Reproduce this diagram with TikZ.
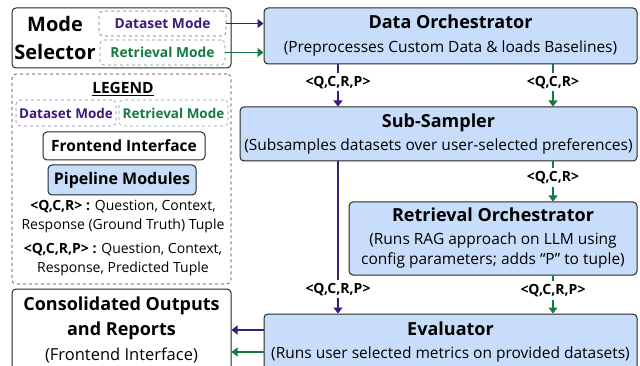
\documentclass[tikz,border=0pt]{standalone}
\usepackage{fontspec}
\setmainfont{Open Sans}
\usepackage{tikz}
\usetikzlibrary{arrows.meta}
\usetikzlibrary{positioning,calc}
\usepackage{xcolor}
\definecolor{dsetpurple}{RGB}{58,27,125}
\definecolor{retrgreen}{RGB}{22,122,64}
\definecolor{modblue}{RGB}{199,221,249}
\tikzset{
    module/.style={
        draw=black!85,
        fill=modblue,
        rounded corners=4pt,
        line width=1pt,
        align=center,
        inner sep=0pt,
        font=\fontsize{15.5}{18}\selectfont
    },
    frontend/.style={
        draw=black!85,
        fill=white,
        rounded corners=4pt,
        line width=1pt,
        align=center,
        inner sep=0pt
    },
    modebox/.style={
        dashed,
        rounded corners=4pt,
        line width=0.6pt,
        inner sep=0pt,
        font=\fontsize{13.8}{16}\selectfont\bfseries
    },
    dflow/.style={
        draw=dsetpurple,
        line width=1.8pt,
        -{Triangle[length=6pt, width=9pt]}
    },
    rflow/.style={
        draw=retrgreen,
        line width=1.8pt,
        -{Triangle[length=6pt, width=9pt]}
    },
    tuple/.style={
        fill=white,
        inner sep=3pt,
        font=\fontsize{14}{16}\selectfont\bfseries
    }
}

\begin{document}
\begin{tikzpicture}[x=1pt, y=-1pt]
  \useasboundingbox (0,0) rectangle (640,366);

  % Mode selector (top left)
  \node[frontend, minimum width=219pt, minimum height=60pt] (sel) at (121.5,38) {};
  \node[font=\fontsize{20}{28}\selectfont\bfseries, align=center] (seltext) at (55,38) {Mode\\Selector};
  \node[modebox, draw=dsetpurple!70, text=dsetpurple, minimum width=127pt, minimum height=25pt] (dsm) at (162.5,23.5) {Dataset Mode};
  \node[modebox, draw=retrgreen!70, text=retrgreen, minimum width=125pt, minimum height=25pt] (rtm) at (162.5,52.5) {Retrieval Mode};

  % Legend
  \node[draw=black!80, dashed, rounded corners=4pt, line width=0.6pt, minimum width=219pt, minimum height=210pt] (leg) at (121.5,179) {};
  \node[font=\fontsize{15.5}{18}\selectfont\bfseries] (legtitle) at (123,89) {\underline{LEGEND}};
  \node[modebox, font=\fontsize{13.5}{16}\selectfont\bfseries, draw=dsetpurple!60, text=dsetpurple, minimum width=100pt, minimum height=26pt] (legdsm) at (66,113) {Dataset Mode};
  \node[modebox, font=\fontsize{13.5}{16}\selectfont\bfseries, draw=retrgreen!60, text=retrgreen, minimum width=109pt, minimum height=26pt] (legrtm) at (173.5,113) {Retrieval Mode};
  \node[frontend, font=\fontsize{15.5}{18}\selectfont\bfseries, minimum width=162pt, minimum height=28pt] (legfe) at (124,146) {Frontend Interface};
  \node[module, font=\fontsize{16}{18}\selectfont\bfseries, minimum width=148pt, minimum height=30pt] (legpm) at (122,180) {Pipeline Modules};
  \node[align=center, font=\fontsize{14}{19}\selectfont] (legqcr) at (123,217) {\textbf{<Q,C,R> :} Question, Context,\\Response (Ground Truth) Tuple};
  \node[align=center, font=\fontsize{14}{19}\selectfont] (legqcrp) at (123,260) {\textbf{<Q,C,R,P> :} Question, Context,\\Response, Predicted Tuple};

  % Consolidated outputs (bottom left)
  \node[frontend, minimum width=219pt, minimum height=82pt] (cons) at (121.5,330) {};
  \node[align=center, font=\fontsize{18}{25}\selectfont\bfseries] (constext) at (121.5,318) {Consolidated Outputs\\and Reports};
  \node[font=\fontsize{16.5}{18}\selectfont] (consnote) at (121.5,355) {(Frontend Interface)};

  % Pipeline modules
  \node[module, minimum width=373pt, minimum height=56pt] (do) at (450.5,36)
    {{\fontsize{18}{20}\selectfont\bfseries Data Orchestrator}\\[6pt](Preprocesses Custom Data \& loads Baselines)};
  \node[module, minimum width=397pt, minimum height=54pt] (ss) at (438.5,134)
    {{\fontsize{18}{20}\selectfont\bfseries Sub-Sampler}\\[5pt](Subsamples datasets over user-selected preferences)};
  \node[module, minimum width=288pt, minimum height=73pt] (ro) at (493,238.5)
    {{\fontsize{18}{20}\selectfont\bfseries Retrieval Orchestrator}\\[5pt](Runs RAG approach on LLM using\\[2pt]config parameters; adds “P” to tuple)};
  \node[module, minimum width=373pt, minimum height=56pt] (ev) at (450.5,342)
    {{\fontsize{18}{20}\selectfont\bfseries Evaluator}\\[5pt](Runs user selected metrics on provided datasets)};

  % Mode arrows into the orchestrator
  \draw[dflow] (dsm) -- (dsm -| do.west);
  \draw[rflow] (rtm) -- (rtm -| do.west);

  % Vertical flows
  \coordinate (dline) at (338,0);
  \coordinate (rline) at (553,0);
  \draw[dflow] (dline |- do.south) -- node[tuple, pos=0.42] {<Q,C,R,P>} (dline |- ss.north);
  \draw[rflow] (rline |- do.south) -- node[tuple, pos=0.42] {<Q,C,R>} (rline |- ss.north);
  \draw[dflow] (dline |- ss.south) -- node[tuple, pos=0.84] {<Q,C,R,P>} (dline |- ev.north);
  \draw[rflow] (rline |- ss.south) -- node[tuple, pos=0.4] {<Q,C,R>} (rline |- ro.north);
  \draw[rflow] (rline |- ro.south) -- node[tuple, pos=0.4] {<Q,C,R,P>} (rline |- ev.north);

  % Outputs back to the frontend
  \draw[dflow] ([yshift=12pt]ev.west) -- ([yshift=12pt]ev.west -| cons.east);
  \draw[rflow] ([yshift=-10pt]ev.west) -- ([yshift=-10pt]ev.west -| cons.east);
\end{tikzpicture}
\end{document}
